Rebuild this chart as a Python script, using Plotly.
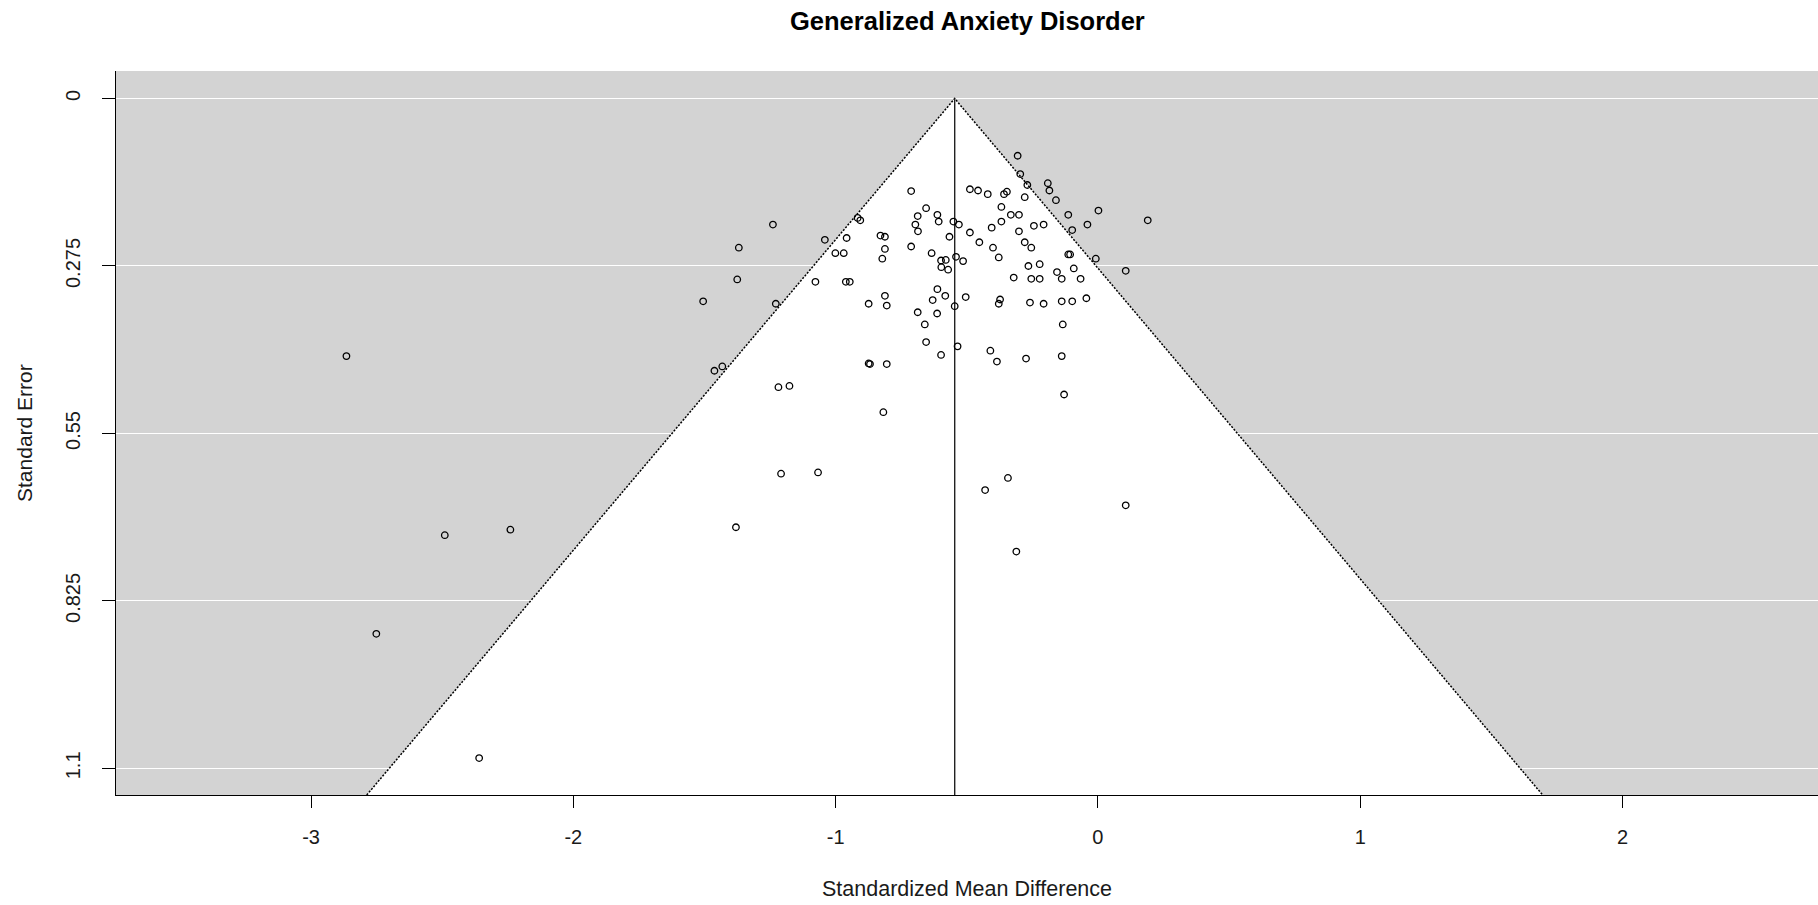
import plotly.graph_objects as go

# Study effect sizes (standardized mean difference) and standard errors
smd = [
    -1.239, -1.369, -1.375, -1.505, -1.228, -1.041, -0.916, -0.906, -0.958, -1.001,
    -0.969, -1.077, -0.961, -0.946, -0.829, -0.812, -0.812, -0.822, -0.812, -0.874,
    -0.805, -0.712, -0.687, -0.696, -0.686, -0.712, -0.687,
    -0.306, -0.296, -0.269, -0.191, -0.185, -0.160, -0.488, -0.457, -0.420, -0.358,
    -0.347, -0.279, -0.368, -0.655, -0.612, -0.607, -0.551, -0.530, -0.332, -0.301,
    -0.368, -0.113, 0.002, 0.190, -0.040, -0.098, -0.488, -0.405, -0.301, -0.244,
    -0.207, -0.566, -0.452, -0.400, -0.279, -0.254, -0.634, -0.378, -0.541, -0.514,
    -0.598, -0.580, -0.597, -0.571, -0.113, -0.106, -0.008, -0.092, -0.265, -0.222,
    -0.156, 0.106, -0.321, -0.254, -0.222, -0.138, -0.066, -0.612, -0.582, -0.630,
    -0.504, -0.373, -0.378, -0.259, -0.207, -0.138, -0.098, -0.044, -0.546, -0.613,
    -0.660, -0.134,
    -1.462, -1.432, -1.218, -1.176, -0.874, -0.869, -0.805, -0.818, -1.208, -1.067,
    -1.380,
    -0.655, -0.598, -0.535, -0.410, -0.385, -0.274, -0.138, -0.129, -0.343, -0.430,
    0.106, -0.311,
    -2.865, -2.490, -2.240, -2.751, -2.359,
]
se = [
    0.207, 0.245, 0.297, 0.333, 0.337, 0.232, 0.196, 0.200, 0.229, 0.254,
    0.254, 0.301, 0.301, 0.301, 0.225, 0.227, 0.247, 0.263, 0.324, 0.337,
    0.340, 0.152, 0.193, 0.207, 0.218, 0.243, 0.351,
    0.094, 0.124, 0.142, 0.139, 0.151, 0.167, 0.149, 0.151, 0.157, 0.157,
    0.153, 0.162, 0.178, 0.180, 0.191, 0.202, 0.202, 0.207, 0.191, 0.191,
    0.202, 0.191, 0.184, 0.200, 0.207, 0.216, 0.220, 0.212, 0.218, 0.209,
    0.207, 0.227, 0.236, 0.245, 0.236, 0.245, 0.254, 0.261, 0.260, 0.267,
    0.266, 0.265, 0.277, 0.281, 0.256, 0.256, 0.263, 0.279, 0.275, 0.272,
    0.285, 0.283, 0.294, 0.296, 0.296, 0.296, 0.296, 0.313, 0.324, 0.331,
    0.326, 0.330, 0.337, 0.335, 0.337, 0.333, 0.333, 0.328, 0.341, 0.353,
    0.371, 0.371,
    0.447, 0.440, 0.474, 0.472, 0.435, 0.436, 0.436, 0.515, 0.616, 0.614,
    0.704,
    0.400, 0.421, 0.407, 0.414, 0.432, 0.427, 0.423, 0.486, 0.623, 0.643,
    0.668, 0.744,
    0.423, 0.717, 0.708, 0.879, 1.083,
]

pooled = -0.546
z = 1.96
x_ticks = [-3, -2, -1, 0, 1, 2]
x_ticktext = ["-3", "-2", "-1", "0", "1", "2"]
y_ticks = [0, 0.275, 0.55, 0.825, 1.1]
y_ticktext = ["0", "0.275", "0.55", "0.825", "1.1"]
x_range = [-3.7435, 2.7453]
y_range = [1.1437, -0.0452]

se_max = y_range[0]
FONT = "Liberation Sans, Arial, sans-serif"

fig = go.Figure()

# white funnel region
fig.add_trace(go.Scatter(
    x=[pooled - z * se_max, pooled, pooled + z * se_max, pooled - z * se_max],
    y=[se_max, 0, se_max, se_max],
    mode="lines", fill="toself", fillcolor="white",
    line=dict(width=0), hoverinfo="skip", showlegend=False,
))
# dotted funnel edges
fig.add_trace(go.Scatter(
    x=[pooled - z * se_max, pooled, pooled + z * se_max],
    y=[se_max, 0, se_max],
    mode="lines", line=dict(color="black", width=1.5, dash="2px,1.5px"),
    hoverinfo="skip", showlegend=False,
))
# vertical line at pooled estimate
fig.add_trace(go.Scatter(
    x=[pooled, pooled], y=[0, se_max],
    mode="lines", line=dict(color="#222222", width=1.4),
    hoverinfo="skip", showlegend=False,
))
# studies
fig.add_trace(go.Scatter(
    x=smd, y=se, mode="markers",
    marker=dict(symbol="circle-open", size=6.5, color="black", line=dict(width=1.3, color="black")),
    showlegend=False,
))

fig.update_layout(
    width=1818, height=905,
    margin=dict(l=116, r=0, t=71, b=110),
    paper_bgcolor="white",
    plot_bgcolor="#d3d3d3",
    font=dict(family=FONT, size=20, color="#1a1a1a"),
    showlegend=False,
)
fig.update_xaxes(
    range=x_range, tickvals=x_ticks, ticktext=x_ticktext,
    showgrid=False, zeroline=False,
    showline=True, linecolor="black", linewidth=1.3,
    ticks="outside", ticklen=12, tickwidth=1.3, tickcolor="black",
    ticklabelstandoff=12,
    tickfont=dict(size=20, family=FONT, color="#1a1a1a"),
)
fig.update_yaxes(
    range=y_range, tickvals=y_ticks, ticktext=y_ticktext,
    showgrid=True, gridcolor="white", gridwidth=1.3, zeroline=False,
    showline=True, linecolor="black", linewidth=1.3,
    ticks="outside", ticklen=13, tickwidth=1.3, tickcolor="black",
    tickangle=-90, ticklabelstandoff=14,
    tickfont=dict(size=20, family=FONT, color="#1a1a1a"),
)

fig.add_annotation(
    text="<b>Generalized Anxiety Disorder</b>", xref="paper", yref="paper",
    x=0.5, y=1, yshift=50, xanchor="center", yanchor="middle", showarrow=False,
    font=dict(size=25.5, family=FONT, color="black"),
)
fig.add_annotation(
    text="Standardized Mean Difference", xref="paper", yref="paper",
    x=0.5, y=0, yshift=-94, xanchor="center", yanchor="middle", showarrow=False,
    font=dict(size=21.5, family=FONT, color="#1a1a1a"),
)
fig.add_annotation(
    text="Standard Error", xref="paper", yref="paper",
    x=0, y=0.5, xshift=-92, xanchor="center", yanchor="middle", textangle=-90,
    showarrow=False, font=dict(size=21, family=FONT, color="#1a1a1a"),
)

fig.write_html("out.html")
